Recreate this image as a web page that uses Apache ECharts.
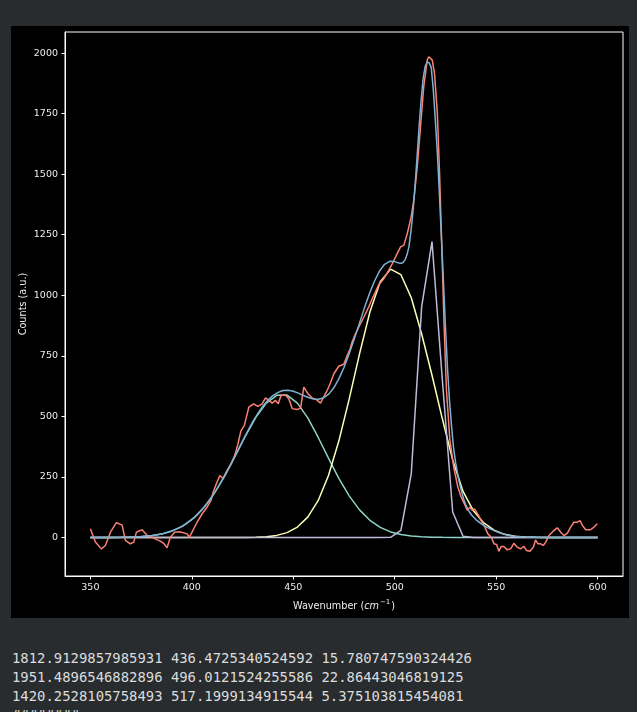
<!DOCTYPE html>
<html>
<head>
<meta charset="utf-8">
<title>peak fit</title>
<script src="https://cdn.jsdelivr.net/npm/echarts@6.0.0/dist/echarts.min.js"></script>
<style>
    html, body { margin: 0; padding: 0; background: #282c2f; width: 637px; height: 712px; overflow: hidden; }
    #main { position: absolute; left: 11px; top: 26px; width: 618px; height: 592px; background: #000; }
    #out { position: absolute; left: 12px; top: 649px; margin: 0; color: #dcdcdc;
        font-family: 'DejaVu Sans Mono', monospace; font-size: 13.9px; line-height: 19px; white-space: pre; }
</style>
</head>
<body>
<div id="main"></div>
<pre id="out">1812.9129857985931 436.4725340524592 15.780747590324426
1951.4896546882896 496.0121524255586 22.86443046819125
1420.2528105758493 517.1999134915544 5.375103815454081
########</pre>
<script>
// measured spectrum (red)
var dataX = [350, 352.5, 355.4, 357.4, 359.9, 362.8, 365.6, 367.3, 369.7, 371.4, 372.7, 375.5, 378, 380.4, 382.5, 384.5, 386.1, 387.8, 389.4, 391.6,
    394, 397.7, 398.8, 400.1, 402.6, 405.1, 407.5, 409.5, 410.5, 412.1, 413.8, 415.4, 417.4, 419.4, 421.2, 422.7, 424.2, 425.9, 428.1, 430.5,
    432.5, 434.7, 436.3, 438, 439.6, 441.2, 442.6, 444, 446.2, 447.8, 449.5, 451.9, 453.6, 455.2, 457.2, 459.3, 461.4, 463.4, 465, 466.7,
    468.3, 470, 472.4, 474.9, 476.6, 477.9, 479, 480.7, 482.3, 484, 485.6, 487.2, 488.9, 490.5, 492.2, 494.3, 496.3, 498.8, 501.2, 502.9,
    504.5, 506.2, 508.1, 509.4, 511.1, 512.7, 514.3, 516, 516.8, 518.5, 519.6, 521, 522.1, 523.1, 524.3, 525.5, 527.2, 529.1, 531.1, 532.6,
    534, 535.8, 537, 538.2, 539.3, 541, 542.6, 544.3, 545.9, 547.6, 548.9, 550.2, 551.3, 552.5, 553.8, 555.5, 557.1, 558.7, 560.4, 562,
    563.7, 565, 566.6, 568.3, 569.4, 570.6, 571.9, 573.2, 574.4, 576, 578.1, 580.1, 581.8, 583.4, 585.1, 586.7, 588.3, 590, 591.3, 592.5,
    594.1, 596.5, 598.2, 599.8];
var dataY = [36, -19, -47, -33, 22, 61, 52, -12, -26, -19, 22, 32, 8, 1, -8, -15, -24, -43, 1, 22,
    24, 15, 1, 22, 63, 98, 125, 153, 187, 222, 256, 243, 277, 304, 340, 385, 440, 463, 538, 552,
    541, 552, 576, 566, 555, 566, 552, 587, 587, 573, 532, 528, 534, 621, 594, 576, 569, 555, 580, 607,
    638, 676, 707, 715, 752, 776, 807, 842, 869, 897, 924, 952, 986, 1014, 1045, 1065, 1092, 1131, 1172, 1200,
    1207, 1255, 1324, 1393, 1530, 1695, 1861, 1971, 1985, 1971, 1916, 1751, 1503, 1227, 883, 607, 401, 290, 208, 170,
    145, 112, 125, 112, 118, 95, 70, 45, 15, 1, -26, -29, -57, -37, -37, -51, -47, -24, -40, -47,
    -37, -54, -57, -40, -10, -26, -26, -33, -19, 8, 26, 40, 22, 8, 18, 43, 63, 63, 70, 50,
    32, 32, 43, 57];

// components (coarse grid, 50 pts)
var compX = [350.00, 355.10, 360.20, 365.31, 370.41, 375.51, 380.61, 385.71, 390.82, 395.92,
    401.02, 406.12, 411.22, 416.33, 421.43, 426.53, 431.63, 436.73, 441.84, 446.94,
    452.04, 457.14, 462.24, 467.35, 472.45, 477.55, 482.65, 487.76, 492.86, 497.96,
    503.06, 508.16, 513.27, 518.37, 523.47, 528.57, 533.67, 538.78, 543.88, 548.98,
    554.08, 559.18, 564.29, 569.39, 574.49, 579.59, 584.69, 589.80, 594.90, 600.00];
var peak1 = [0, 0, 0.3, 0.8, 1.8, 4, 8, 15.6, 28.5, 49,
    81, 125, 184, 256, 337, 421, 497, 555, 587, 588,
    555, 494, 414, 328, 244, 172, 114, 71, 42, 23,
    12, 6, 2.8, 1.2, 0.5, 0.2, 0.1, 0, 0, 0,
    0, 0, 0, 0, 0, 0, 0, 0, 0, 0];
var peak2 = [0, 0, 0, 0, 0, 0, 0, 0, 0, 0,
    0, 0, 0, 0, 0.1, 0.4, 1.3, 3.5, 8.7, 20,
    43, 84, 152, 256, 398, 571, 758, 931, 1056, 1108,
    1085, 990, 840, 670, 490, 320, 190, 110, 60, 30,
    13, 5, 2, 0.7, 0, 0, 0, 0, 0, 0];
var peak3 = [0, 0, 0, 0, 0, 0, 0, 0, 0, 0,
    0, 0, 0, 0, 0, 0, 0, 0, 0, 0,
    0, 0, 0, 0, 0, 0, 0, 0, 0, 0.5,
    29, 264, 952, 1222, 650, 105, 5, 0, 0, 0,
    0, 0, 0, 0, 0, 0, 0, 0, 0, 0];

// total fit (blue)
var fitX = [350, 355, 360, 365, 370, 375, 380, 385, 390, 395,
    400, 402.5, 405, 407.5, 410, 412.5, 415, 417.5, 420, 422.5, 425, 427.5, 430, 432.5, 435, 437.5, 440, 442.5, 445, 447.5,
    450, 452.5, 455, 457.5, 460, 462.5, 465, 467.5, 470, 472.5, 475, 477.5, 480, 482.5, 485, 487.5, 490, 492.5, 495, 497.5,
    500, 501, 502, 503, 504, 505, 506, 507, 508, 509, 510, 511, 512, 513, 514, 515, 516, 517, 518, 519,
    520, 521, 522, 523, 524, 525, 526, 527, 528, 529, 530, 531, 532, 533, 534, 535, 536, 537, 538,
    540, 542.5, 545, 547.5, 550, 552.5, 555, 557.5, 560, 565, 570, 575, 580, 585, 590, 595, 600];
var fitY = [0, 0, 0.3, 1, 2, 4, 7, 14, 26, 45,
    74, 93, 115, 140, 169, 202, 237, 275, 315, 356, 398, 438, 477, 511, 542, 567, 586, 599, 607, 608,
    604, 596, 586, 578, 572, 571, 577, 592, 618, 656, 702, 758, 818, 882, 946, 1006, 1058, 1100, 1128, 1140,
    1139, 1136, 1133, 1132, 1134, 1145, 1166, 1200, 1265, 1345, 1450, 1570, 1695, 1805, 1895, 1945, 1962, 1960, 1940, 1850,
    1725, 1590, 1420, 1240, 1060, 870, 700, 565, 460, 370, 310, 262, 222, 188, 158, 135, 117, 103, 92,
    74, 57, 44, 34, 25, 17, 11, 7, 4, 1.5, 0.5, 0.2, 0, 0, 0, 0, 0];

var xTicks = [350, 400, 450, 500, 550, 600];
var yTicks = [0, 250, 500, 750, 1000, 1250, 1500, 1750, 2000];

function pairs(xs, ys) {
    var out = [];
    for (var i = 0; i < xs.length; i++) {
        out.push([xs[i], ys[i]]);
    }
    return out;
}

function line(name, xs, ys, color, z) {
    return {
        name: name,
        type: 'line',
        data: pairs(xs, ys),
        showSymbol: false,
        symbol: 'none',
        z: z,
        lineStyle: { color: color, width: 1.5 },
        emphasis: { disabled: true }
    };
}

var txt = '#eeeeee';
var myChart = echarts.init(document.getElementById('main'));
var option = {
    backgroundColor: '#000',
    animation: false,
    textStyle: { fontFamily: 'DejaVu Sans' },
    grid: {
        left: 54, top: 6, width: 558, height: 544,
        containLabel: false, outerBoundsMode: 'none',
        show: true, borderColor: '#ffffff', borderWidth: 1, backgroundColor: '#000'
    },
    xAxis: {
        type: 'value',
        min: 337.5,
        max: 612.5,
        name: '{n|Wavenumber (}{i|cm}{s|−1}{n|)}',
        nameLocation: 'middle',
        nameGap: 23,
        nameMoveOverlap: false,
        nameTextStyle: {
            rich: {
                n: { color: txt, fontSize: 9.7, fontFamily: 'DejaVu Sans', lineHeight: 14 },
                i: { color: txt, fontSize: 9.7, fontFamily: 'DejaVu Sans', fontStyle: 'italic', lineHeight: 14 },
                s: { color: txt, fontSize: 7, fontFamily: 'DejaVu Sans', verticalAlign: 'top', lineHeight: 14, padding: [0, 1, 0, 1] }
            }
        },
        axisLine: { onZero: false, lineStyle: { color: '#ffffff', width: 1 } },
        axisTick: { length: 3.5, lineStyle: { color: '#ffffff' }, customValues: xTicks },
        axisLabel: { color: txt, fontSize: 9.5, margin: 6.5, customValues: xTicks },
        splitLine: { show: false }
    },
    yAxis: {
        type: 'value',
        min: -159,
        max: 2087,
        name: 'Counts (a.u.)',
        nameLocation: 'middle',
        nameRotate: 90,
        nameGap: 37,
        nameMoveOverlap: false,
        nameTextStyle: { color: txt, fontSize: 9.7 },
        axisLine: { show: true, onZero: false, lineStyle: { color: '#ffffff', width: 1 } },
        axisTick: { show: true, length: 3.5, lineStyle: { color: '#ffffff' }, customValues: yTicks },
        axisLabel: {
            color: txt, fontSize: 9.5, margin: 7, customValues: yTicks,
            formatter: function (v) { return String(v); }
        },
        splitLine: { show: false }
    },
    series: [
        line('peak 1', compX, peak1, '#8dd3c7', 2),
        line('peak 2', compX, peak2, '#feffb3', 3),
        line('peak 3', compX, peak3, '#bfbbd9', 4),
        line('data', dataX, dataY, '#fa8174', 5),
        line('fit', fitX, fitY, '#81b1d2', 6)
    ]
};
myChart.setOption(option);
</script>
</body>
</html>
